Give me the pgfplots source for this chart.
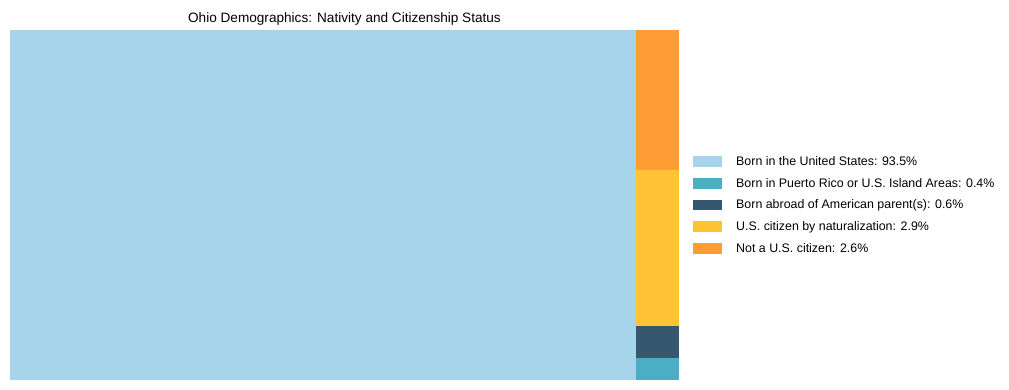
\documentclass[border=0pt]{standalone}
\usepackage{pgfplots}
\pgfplotsset{compat=1.18}
\usepackage{fontspec}
\setmainfont{Liberation Sans}
\definecolor{cUS}{RGB}{166,212,234}
\definecolor{cPR}{RGB}{75,174,197}
\definecolor{cAB}{RGB}{53,88,111}
\definecolor{cNat}{RGB}{255,195,53}
\definecolor{cNot}{RGB}{253,157,52}
\begin{document}
\begin{tikzpicture}[x=1pt,y=1pt]
\path[use as bounding box] (0,0) rectangle (1009,390);
\begin{axis}[
  at={(10pt,10pt)}, anchor=south west,
  width=669pt, height=350pt, scale only axis,
  xmin=0, xmax=100, ymin=0, ymax=100,
  axis line style={draw=none}, ticks=none,
  title={Ohio Demographics: Nativity and Citizenship Status},
  title style={font=\fontsize{13.6}{15}\selectfont, yshift=-5pt},
  legend cell align=left,
  legend style={at={(1,0.5)}, anchor=west, xshift=11pt, draw=none, fill=none,
    font=\fontsize{12.4}{14}\selectfont, row sep=7.2pt},
  legend image code/.code={\fill[#1] (0pt,-5.2pt) rectangle (29pt,5.2pt); \path (41pt,0pt);},
]
\addplot[fill=cUS, draw=none] coordinates {(0,0) (93.5,0) (93.5,100) (0,100)} -- cycle;
\addlegendentry{Born in the United States: 93.5\%}
\addplot[fill=cPR, draw=none] coordinates {(93.5,0) (100,0) (100,6.15) (93.5,6.15)} -- cycle;
\addlegendentry{Born in Puerto Rico or U.S. Island Areas: 0.4\%}
\addplot[fill=cAB, draw=none] coordinates {(93.5,6.15) (100,6.15) (100,15.38) (93.5,15.38)} -- cycle;
\addlegendentry{Born abroad of American parent(s): 0.6\%}
\addplot[fill=cNat, draw=none] coordinates {(93.5,15.38) (100,15.38) (100,60) (93.5,60)} -- cycle;
\addlegendentry{U.S. citizen by naturalization: 2.9\%}
\addplot[fill=cNot, draw=none] coordinates {(93.5,60) (100,60) (100,100) (93.5,100)} -- cycle;
\addlegendentry{Not a U.S. citizen: 2.6\%}
\end{axis}
\end{tikzpicture}
\end{document}
